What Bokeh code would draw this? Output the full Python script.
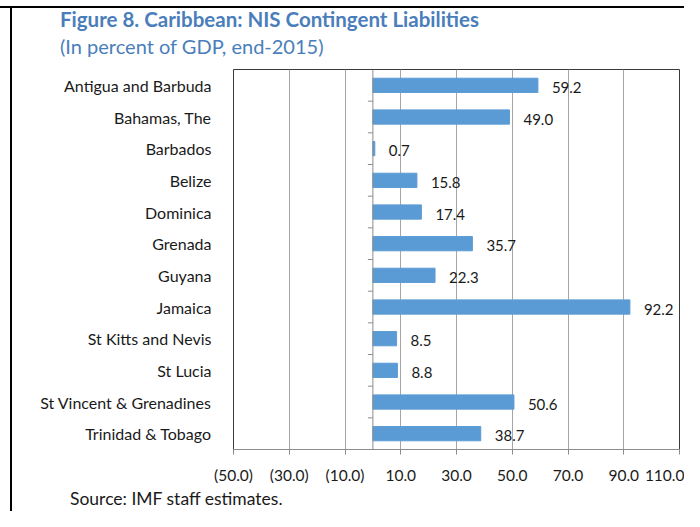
import math
from bokeh.plotting import figure
from bokeh.models import ColumnDataSource, FixedTicker, Span, Range1d, Div
from bokeh.layouts import column, row
from bokeh.core.properties import value
from bokeh.embed import file_html
from bokeh.resources import INLINE

countries = ["Antigua and Barbuda", "Bahamas, The", "Barbados", "Belize", "Dominica",
             "Grenada", "Guyana", "Jamaica", "St Kitts and Nevis", "St Lucia",
             "St Vincent & Grenadines", "Trinidad & Tobago"]
liabilities = [59.2, 49.0, 0.7, 15.8, 17.4, 35.7, 22.3, 92.2, 8.5, 8.8, 50.6, 38.7]
x_ticks = [-50, -30, -10, 10, 30, 50, 70, 90, 110]
title_text = "Figure 8. Caribbean: NIS Contingent Liabilities"
subtitle_text = "(In percent of GDP, end-2015)"
source_text = "Source: IMF staff estimates."

FONT = "Lato"
BLUE_TITLE = "#4A7EBB"
BAR = "#5B9BD5"
TXT = "#1a1a1a"

n = len(countries)
ycent = [n - i - 0.5 for i in range(n)]
labels = [f"{v:.1f}" for v in liabilities]
src = ColumnDataSource(dict(y=ycent, v=liabilities, lab=labels, c=countries))

TOTAL_W, TOTAL_H = 684, 511
LEFT_W = 12
TOP_H = 64
FIG_W = TOTAL_W - LEFT_W
FIG_H = 422
BOT_H = TOTAL_H - TOP_H - FIG_H

p = figure(width=FIG_W, height=FIG_H, output_backend="svg", toolbar_location=None,
           x_range=Range1d(-50, 110), y_range=Range1d(0, n),
           min_border_left=233 - LEFT_W, min_border_right=TOTAL_W - 679,
           min_border_top=69 - TOP_H, min_border_bottom=TOP_H + FIG_H - 449)
p.background_fill_color = "white"
p.border_fill_color = "white"
p.outline_line_color = "#3a3a3a"
p.outline_line_width = 1

p.hbar(y="y", left=0, right="v", height=0.45, source=src, color=BAR, line_color=BAR)
p.text(x="v", y="y", text="lab", source=src, x_offset=14, y_offset=2,
       text_font=value(FONT), text_font_size="15px", text_color=TXT,
       text_baseline="middle", text_align="left")

p.add_layout(Span(location=0, dimension="height", line_color="#8c8c8c", line_width=1))
bounds = list(range(1, n))
p.ray(x=[0] * len(bounds), y=bounds, length=5, length_units="screen", angle=math.pi,
      line_color="#8c8c8c", line_width=1)

xa = p.xaxis[0]
xa.ticker = FixedTicker(ticks=x_ticks)
xa.major_label_overrides = {t: (f"({abs(t):.1f})" if t < 0 else f"{t:.1f}") for t in x_ticks}
xa.major_label_text_font = FONT
xa.major_label_text_font_size = "15.5px"
xa.major_label_text_color = TXT
xa.major_label_standoff = 11
xa.axis_line_color = "#8c8c8c"
xa.major_tick_line_color = "#8c8c8c"
xa.major_tick_out = 5
xa.major_tick_in = 0
xa.minor_tick_line_color = None

ya = p.yaxis[0]
ya.ticker = FixedTicker(ticks=ycent)
ya.major_label_overrides = {y: c for y, c in zip(ycent, countries)}
ya.major_label_text_font = FONT
ya.major_label_text_font_size = "16px"
ya.major_label_text_color = TXT
ya.major_label_standoff = 16
ya.axis_line_color = None
ya.major_tick_line_color = None
ya.minor_tick_line_color = None

p.xgrid.ticker = FixedTicker(ticks=x_ticks)
p.xgrid.grid_line_color = "#a6a6a6"
p.ygrid.grid_line_color = None

VBAR = '<div style="position:absolute;left:10px;top:{t}px;width:2px;height:{h}px;background:#000;"></div>'

top_html = (
    f'<div style="position:relative;width:{TOTAL_W}px;height:{TOP_H}px;font-family:Lato,sans-serif;">'
    f'<div style="position:absolute;left:0;top:6px;width:{TOTAL_W}px;height:2px;background:#000;"></div>'
    + VBAR.format(t=6, h=TOP_H - 6) +
    f'<div style="position:absolute;left:60px;top:7px;font-size:20.5px;line-height:24px;font-weight:bold;'
    f'color:{BLUE_TITLE};white-space:nowrap;">{title_text}</div>'
    f'<div style="position:absolute;left:60px;top:34px;font-size:20px;line-height:24px;'
    f'color:{BLUE_TITLE};white-space:nowrap;">{subtitle_text}</div>'
    '</div>'
)
left_html = (f'<div style="position:relative;width:{LEFT_W}px;height:{FIG_H}px;">'
             + VBAR.format(t=0, h=FIG_H) + '</div>')
bot_top = TOP_H + FIG_H
bot_html = (
    f'<div style="position:relative;width:{TOTAL_W}px;height:{BOT_H}px;font-family:Lato,sans-serif;">'
    + VBAR.format(t=0, h=BOT_H) +
    f'<div style="position:absolute;left:70px;top:{499 - bot_top - 10}px;font-size:17.5px;line-height:20px;'
    f'color:{TXT};white-space:nowrap;">{source_text}</div>'
    '</div>'
)

top_div = Div(text=top_html, width=TOTAL_W, height=TOP_H, margin=0)
left_div = Div(text=left_html, width=LEFT_W, height=FIG_H, margin=0)
bot_div = Div(text=bot_html, width=TOTAL_W, height=BOT_H, margin=0)

layout = column(top_div, row(left_div, p, spacing=0), bot_div, spacing=0)

open("out.html", "w").write(file_html(layout, INLINE))
